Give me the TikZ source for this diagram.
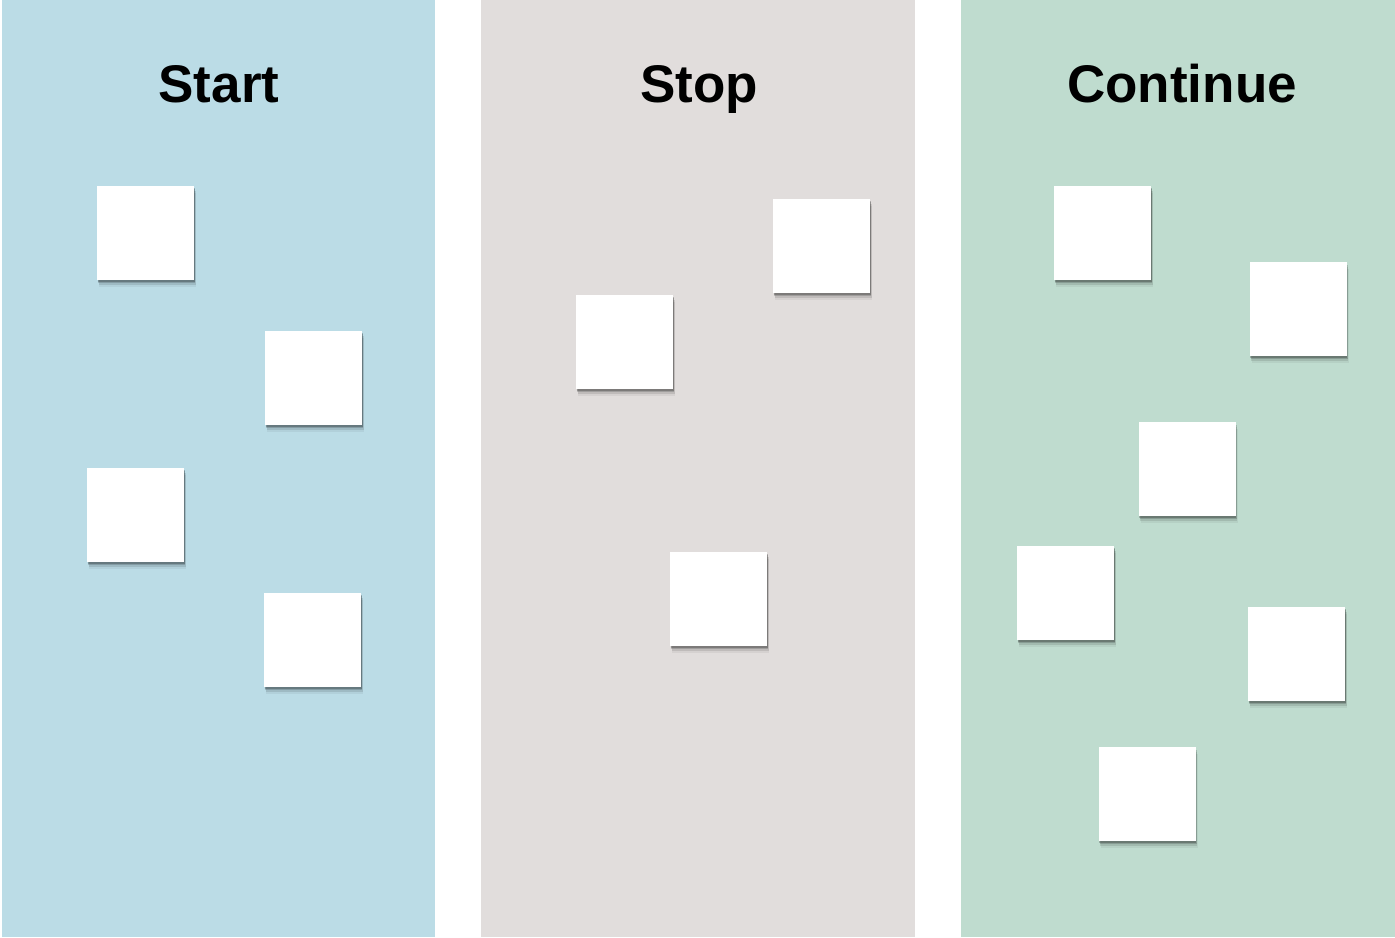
\documentclass[tikz,border=0pt]{standalone}
\usepackage{fontspec}
\setmainfont{Liberation Sans}
\usetikzlibrary{shadows}
\definecolor{startblue}{HTML}{BBDCE6}
\definecolor{stopgray}{HTML}{E1DDDC}
\definecolor{contgreen}{HTML}{BFDCCF}

\begin{document}
\begin{tikzpicture}[
        x=0.5pt,
        y=-0.5pt,
        title/.style={
          font=\bfseries\fontsize{26.5}{30}\selectfont,
          anchor=base,
          inner sep=0pt
          },
        note/.style={
          fill=white,
          draw=none,
          minimum width=48.5pt,
          minimum height=47pt,
          inner sep=0pt,
          drop shadow={shadow xshift=0.3pt, shadow yshift=-0.8pt, fill=black, opacity=0.22},
          drop shadow={shadow xshift=0.6pt, shadow yshift=-1.6pt, fill=black, opacity=0.16},
          drop shadow={shadow xshift=0.9pt, shadow yshift=-2.6pt, fill=black, opacity=0.10},
          drop shadow={shadow xshift=1.1pt, shadow yshift=-3.4pt, fill=black, opacity=0.05}
          }
        ]
        \useasboundingbox (0,0) rectangle (1395,937);
        % lanes
        \fill[startblue] (2,0) rectangle (435,937);
        \fill[stopgray] (481,0) rectangle (915,937);
        \fill[contgreen] (961,0) rectangle (1395,937);
        \node[title] (tstart) at (219,102) {Start};
        \node[title] (tstop) at (699,102) {Stop};
        \node[title] (tcont) at (1182,102) {Continue};
        % sticky notes
        \foreach \x/\y [count=\i] in {145.5/233, 313.5/378, 135.5/515, 312.5/640}
          \node[note] (start\i) at (\x,\y) {};
        \foreach \x/\y [count=\i] in {821.5/246, 624.5/342, 718.5/599}
          \node[note] (stop\i) at (\x,\y) {};
        \foreach \x/\y [count=\i] in {1102.5/233, 1298/309, 1187/469, 1065.5/593, 1296.5/654, 1147/794}
          \node[note] (cont\i) at (\x,\y) {};
    \end{tikzpicture}
\end{document}
